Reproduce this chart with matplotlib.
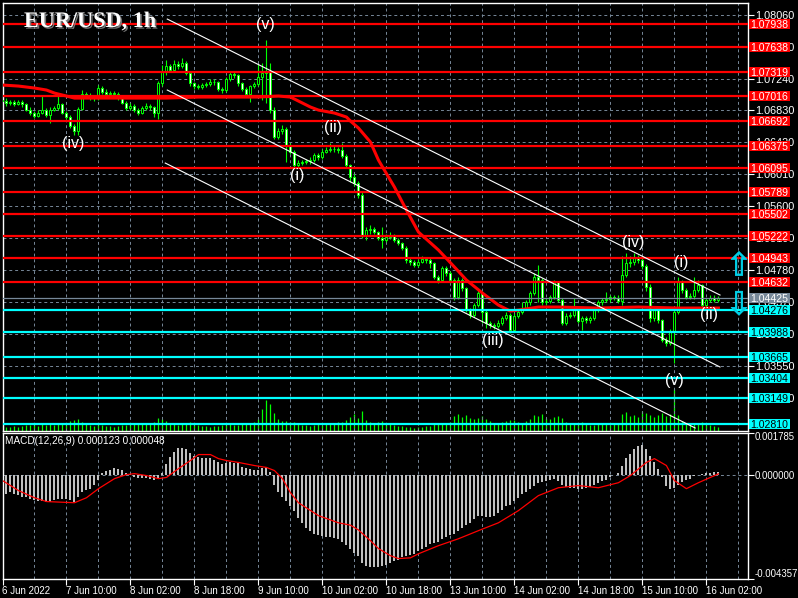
import matplotlib
matplotlib.use('Agg')
import matplotlib.pyplot as plt
import matplotlib.patheffects as pe
import matplotlib.transforms as mtransforms
from matplotlib.patches import Rectangle
import numpy as np

plt.rcParams['font.family'] = ['Liberation Sans', 'DejaVu Sans']

# EUR/USD hourly bars, 6 Jun 18:00 .. 16 Jun 05:00
first_open = 1.0697
close = [1.0695, 1.0693, 1.0694, 1.0691, 1.0694, 1.0691, 1.0684, 1.0680, 1.0676, 1.0680,
         1.0684, 1.0677, 1.0684, 1.0686, 1.0691, 1.0680, 1.0675, 1.0663, 1.0657, 1.0685,
         1.0704, 1.0703, 1.0700, 1.0699, 1.0712, 1.0707, 1.0704, 1.0705, 1.0704, 1.0699,
         1.0693, 1.0686, 1.0689, 1.0684, 1.0680, 1.0686, 1.0689, 1.0687, 1.0680, 1.0718,
         1.0732, 1.0740, 1.0735, 1.0743, 1.0740, 1.0744, 1.0731, 1.0718, 1.0714, 1.0713,
         1.0716, 1.0717, 1.0720, 1.0719, 1.0711, 1.0709, 1.0723, 1.0730, 1.0728, 1.0718,
         1.0711, 1.0704, 1.0714, 1.0717, 1.0726, 1.0731, 1.0734, 1.0684, 1.0649, 1.0657,
         1.0659, 1.0639, 1.0630, 1.0613, 1.0616, 1.0617, 1.0618, 1.0620, 1.0626, 1.0623,
         1.0630, 1.0632, 1.0634, 1.0633, 1.0632, 1.0625, 1.0613, 1.0598, 1.0590, 1.0575,
         1.0523, 1.0530, 1.0531, 1.0527, 1.0520, 1.0517, 1.0521, 1.0522, 1.0517, 1.0513,
         1.0507, 1.0491, 1.0489, 1.0485, 1.0489, 1.0493, 1.0491, 1.0487, 1.0470, 1.0466,
         1.0481, 1.0475, 1.0466, 1.0444, 1.0466, 1.0455, 1.0427, 1.0421, 1.0434, 1.0449,
         1.0425, 1.0411, 1.0408, 1.0407, 1.0411, 1.0417, 1.0421, 1.0402, 1.0420, 1.0425,
         1.0430, 1.0437, 1.0449, 1.0470, 1.0466, 1.0437, 1.0439, 1.0444, 1.0463, 1.0440,
         1.0411, 1.0420, 1.0421, 1.0429, 1.0413, 1.0417, 1.0414, 1.0417, 1.0427, 1.0437,
         1.0440, 1.0441, 1.0444, 1.0443, 1.0439, 1.0472, 1.0487, 1.0489, 1.0494, 1.0491,
         1.0483, 1.0457, 1.0417, 1.0427, 1.0414, 1.0389, 1.0385, 1.0400, 1.0425, 1.0463,
         1.0453, 1.0444, 1.0445, 1.0453, 1.0459, 1.0434, 1.0440, 1.0443, 1.0440, 1.0442]
high = [1.0700, 1.0699, 1.0697, 1.0697, 1.0697, 1.0696, 1.0693, 1.0687, 1.0682, 1.0683,
        1.0702, 1.0686, 1.0687, 1.0689, 1.0702, 1.0693, 1.0682, 1.0677, 1.0666, 1.0688,
        1.0709, 1.0707, 1.0706, 1.0703, 1.0716, 1.0714, 1.0710, 1.0708, 1.0708, 1.0707,
        1.0701, 1.0695, 1.0692, 1.0691, 1.0686, 1.0689, 1.0692, 1.0691, 1.0689, 1.0721,
        1.0741, 1.0748, 1.0743, 1.0748, 1.0747, 1.0750, 1.0747, 1.0733, 1.0720, 1.0717,
        1.0718, 1.0720, 1.0723, 1.0723, 1.0721, 1.0713, 1.0726, 1.0733, 1.0733, 1.0730,
        1.0720, 1.0713, 1.0716, 1.0720, 1.0742, 1.0744, 1.0773, 1.0744, 1.0687, 1.0660,
        1.0664, 1.0662, 1.0641, 1.0632, 1.0619, 1.0620, 1.0621, 1.0623, 1.0629, 1.0628,
        1.0633, 1.0636, 1.0641, 1.0637, 1.0636, 1.0641, 1.0627, 1.0615, 1.0601, 1.0592,
        1.0578, 1.0534, 1.0536, 1.0533, 1.0529, 1.0534, 1.0524, 1.0527, 1.0524, 1.0519,
        1.0515, 1.0509, 1.0494, 1.0491, 1.0492, 1.0497, 1.0495, 1.0494, 1.0489, 1.0472,
        1.0484, 1.0483, 1.0477, 1.0468, 1.0469, 1.0468, 1.0457, 1.0430, 1.0436, 1.0453,
        1.0451, 1.0427, 1.0413, 1.0411, 1.0414, 1.0420, 1.0424, 1.0423, 1.0423, 1.0428,
        1.0437, 1.0440, 1.0452, 1.0475, 1.0485, 1.0468, 1.0442, 1.0447, 1.0466, 1.0465,
        1.0442, 1.0423, 1.0425, 1.0443, 1.0431, 1.0420, 1.0420, 1.0420, 1.0430, 1.0440,
        1.0443, 1.0450, 1.0447, 1.0446, 1.0446, 1.0496, 1.0500, 1.0496, 1.0500, 1.0498,
        1.0497, 1.0486, 1.0460, 1.0430, 1.0430, 1.0416, 1.0392, 1.0403, 1.0431, 1.0469,
        1.0466, 1.0456, 1.0449, 1.0469, 1.0466, 1.0461, 1.0443, 1.0446, 1.0446, 1.0445]
low = [1.0692, 1.0689, 1.0690, 1.0689, 1.0690, 1.0688, 1.0682, 1.0677, 1.0673, 1.0674,
       1.0678, 1.0674, 1.0667, 1.0682, 1.0684, 1.0678, 1.0672, 1.0660, 1.0652, 1.0652,
       1.0683, 1.0699, 1.0697, 1.0695, 1.0697, 1.0704, 1.0701, 1.0701, 1.0702, 1.0697,
       1.0691, 1.0683, 1.0684, 1.0681, 1.0677, 1.0678, 1.0684, 1.0684, 1.0675, 1.0672,
       1.0715, 1.0729, 1.0732, 1.0733, 1.0736, 1.0737, 1.0728, 1.0715, 1.0711, 1.0711,
       1.0711, 1.0713, 1.0715, 1.0716, 1.0708, 1.0705, 1.0707, 1.0721, 1.0725, 1.0715,
       1.0708, 1.0700, 1.0694, 1.0712, 1.0715, 1.0696, 1.0693, 1.0680, 1.0646, 1.0646,
       1.0653, 1.0617, 1.0627, 1.0610, 1.0610, 1.0613, 1.0614, 1.0615, 1.0617, 1.0620,
       1.0621, 1.0628, 1.0630, 1.0630, 1.0629, 1.0622, 1.0610, 1.0591, 1.0586, 1.0571,
       1.0520, 1.0517, 1.0525, 1.0524, 1.0517, 1.0507, 1.0514, 1.0518, 1.0514, 1.0510,
       1.0504, 1.0488, 1.0485, 1.0482, 1.0482, 1.0487, 1.0488, 1.0481, 1.0467, 1.0462,
       1.0463, 1.0471, 1.0462, 1.0440, 1.0441, 1.0452, 1.0424, 1.0417, 1.0418, 1.0431,
       1.0411, 1.0404, 1.0404, 1.0403, 1.0404, 1.0408, 1.0414, 1.0398, 1.0399, 1.0417,
       1.0422, 1.0427, 1.0434, 1.0446, 1.0437, 1.0434, 1.0434, 1.0436, 1.0441, 1.0437,
       1.0408, 1.0408, 1.0417, 1.0418, 1.0410, 1.0401, 1.0411, 1.0411, 1.0414, 1.0425,
       1.0434, 1.0437, 1.0438, 1.0440, 1.0436, 1.0433, 1.0469, 1.0482, 1.0485, 1.0487,
       1.0480, 1.0452, 1.0412, 1.0413, 1.0410, 1.0386, 1.0381, 1.0382, 1.0359, 1.0422,
       1.0449, 1.0441, 1.0441, 1.0441, 1.0450, 1.0431, 1.0431, 1.0437, 1.0437, 1.0438]
volume = [900, 700, 600, 800, 700, 900, 1100, 1000, 1200, 900, 1300, 1100, 1400, 1000, 1200, 1300, 1500,
          1900, 2000, 2300,
          1600, 1200, 1000, 900, 1300, 1100, 900, 800, 700, 900, 1000, 1100, 1200, 1300, 1400, 1200,
          1300, 1500, 1700,
          2400, 2200, 1800,
          1300, 1200, 1100, 1400, 1500, 1600, 1200, 1000, 900, 800, 700, 800, 900, 1100, 1300, 1200,
          1000, 1100, 1400, 1500, 1300, 1600,
          2200, 4200, 6000, 5200, 3400, 2300, 1800,
          1900, 1600, 1700, 1300, 1100, 1000, 900, 1000, 1200, 1100, 1400, 1300, 1500, 1700, 1600, 2000,
          2600, 3200, 2400, 3800,
          2000, 1700, 1500, 1600, 1800, 1400, 1200, 1000, 900, 800,
          700, 600, 500, 600, 700, 800, 900, 1200, 1300, 1500, 1400, 1700,
          2800, 3200, 2600, 3000, 2400, 2200, 2500, 2900, 2300,
          1800, 1500, 1400, 1600, 1900, 2100, 2000, 1700, 1500, 1800, 2200,
          3000, 2800, 3300, 2500, 2300, 2600, 2800, 2400,
          1600, 1400, 1500, 1300, 1600, 1200, 1100, 1000, 1300, 1200, 1400, 1100, 1500, 1300,
          3200, 3600, 2800, 3000, 2600, 3900, 3400, 3000, 2700, 3100, 3500, 2800, 3300,
          8200,
          3000, 1800, 1500, 1200, 1300, 1400, 1600, 1200, 1000, 900, 600]

# moving average (red) read at a few bars
ma_bars = [0, 4, 8, 11, 13, 16, 18, 24, 32, 41, 49, 57, 64, 69, 72, 74, 77, 79, 83, 86,
           87, 89, 92, 94, 98, 101, 104, 109, 113, 116, 120, 124, 127, 129, 134, 139, 149, 159, 169, 179]
ma_vals = [1.07156, 1.07143, 1.07118, 1.07092, 1.07053, 1.07015, 1.06989, 1.06989, 1.06989, 1.06989,
           1.07002, 1.07002, 1.07002, 1.07015, 1.07002, 1.06951, 1.06874, 1.06835, 1.06797, 1.06746,
           1.06694, 1.06605, 1.06425, 1.06194, 1.05848, 1.05553, 1.05271, 1.05041, 1.04823, 1.04656,
           1.04489, 1.04335, 1.04258, 1.04271, 1.04310, 1.04310, 1.04297, 1.04310, 1.04297, 1.04297]

# MACD(12,26,9), values in units of 1e-3
macd_main_e3 = [-0.44, -0.78, -0.71, -0.78, -0.85, -0.92, -0.92, -0.99, -1.06, -1.10,
                -1.10, -1.13, -1.13, -1.06, -1.02, -1.02, -1.02, -1.06, -1.13, -0.92,
                -0.71, -0.64, -0.57, -0.42, -0.21, 0.10, 0.15, 0.20, 0.28, 0.25,
                0.20, 0.07, 0.03, -0.07, -0.14, -0.11, -0.14, -0.17, -0.21, -0.11,
                0.07, 0.45, 0.77, 0.98, 1.12, 1.15, 1.09, 0.91, 0.81, 0.77,
                0.73, 0.70, 0.70, 0.63, 0.53, 0.45, 0.49, 0.53, 0.49, 0.49,
                0.35, 0.28, 0.24, 0.21, 0.21, 0.28, 0.35, 0.14, -0.42, -0.71,
                -0.92, -1.10, -1.30, -1.50, -1.80, -2.00, -2.20, -2.35, -2.45, -2.50,
                -2.55, -2.60, -2.60, -2.65, -2.70, -2.80, -2.95, -3.10, -3.25, -3.40,
                -3.70, -3.80, -3.85, -3.85, -3.85, -3.80, -3.75, -3.70, -3.60, -3.55,
                -3.45, -3.40, -3.35, -3.30, -3.20, -3.10, -3.00, -2.90, -2.85, -2.80,
                -2.70, -2.60, -2.50, -2.45, -2.35, -2.20, -2.10, -2.00, -1.85, -1.70,
                -1.70, -1.75, -1.75, -1.70, -1.60, -1.45, -1.30, -1.25, -1.10, -0.95,
                -0.80, -0.70, -0.60, -0.45, -0.35, -0.30, -0.25, -0.20, -0.15, -0.25,
                -0.40, -0.50, -0.55, -0.55, -0.60, -0.60, -0.55, -0.50, -0.40, -0.35,
                -0.25, -0.20, -0.10, 0.00, 0.10, 0.40, 0.70, 0.90, 1.10, 1.20,
                1.25, 1.10, 0.80, 0.55, 0.25, -0.10, -0.45, -0.60, -0.55, -0.40,
                -0.30, -0.20, -0.15, -0.05, 0.00, 0.05, 0.10, 0.10, 0.12, 0.12]
signal_bars = [0, 4, 8, 11, 18, 21, 24, 28, 31, 33, 36, 39, 41, 44, 47, 49, 52, 54, 56, 59,
               63, 66, 68, 70, 72, 74, 79, 84, 87, 89, 92, 94, 97, 99, 102, 104, 109, 114, 119, 124,
               129, 134, 139, 144, 149, 154, 157, 161, 163, 166, 168, 171, 174, 179]
signal_e3 = [-0.23, -0.65, -0.95, -1.11, -1.16, -0.95, -0.57, -0.15, 0.02, 0.06,
             -0.02, -0.15, -0.10, 0.27, 0.61, 0.86, 0.86, 0.69, 0.61, 0.53,
             0.40, 0.32, 0.19, -0.15, -0.74, -1.16, -1.70, -2.00, -2.10, -2.30,
             -2.75, -3.08, -3.38, -3.50, -3.47, -3.30, -2.96, -2.67, -2.33, -2.00,
             -1.49, -0.86, -0.53, -0.44, -0.53, -0.32, -0.02, 0.53, 0.69, 0.40,
             -0.23, -0.57, -0.32, 0.05]
macd_label = 'MACD(12,26,9) 0.000123 0.000048'
macd_range = (-0.004357, 0.001785)

time_labels = ['6 Jun 2022', '7 Jun 10:00', '8 Jun 02:00', '8 Jun 18:00', '9 Jun 10:00',
               '10 Jun 02:00', '10 Jun 18:00', '13 Jun 10:00', '14 Jun 02:00', '14 Jun 18:00',
               '15 Jun 10:00', '16 Jun 02:00']
price_ticks = [1.0806, 1.0765, 1.0724, 1.0683, 1.0642, 1.0601, 1.0560, 1.0519, 1.0478,
               1.0437, 1.0396, 1.0355, 1.0314]
price_range = (1.02727, 1.08208)

resistance = [1.07938, 1.07638, 1.07319, 1.07016, 1.06692, 1.06375, 1.06095, 1.05789,
              1.05502, 1.05222, 1.04943, 1.04632]
support = [1.04276, 1.03988, 1.03665, 1.03404, 1.03149, 1.02810]
bid = 1.04425

wave_text = ['(v)', '(iv)', '(ii)', '(i)', '(iii)', '(iv)', '(i)', '(ii)', '(v)']
wave_bar = [65.7, 17.7, 82.7, 73.7, 122.7, 157.7, 169.7, 176.7, 168.0]
wave_price = [1.07926, 1.06413, 1.06618, 1.05990, 1.03887, 1.05131, 1.04887, 1.04208, 1.03374]

chan_start = [(41.2, 1.08002), (41.2, 1.07092), (40.7, 1.06156)]
chan_end = [(179.4, 1.04464), (179.4, 1.03541), (173.2, 1.02759)]

LIME = '#00ff00'
GRID = '#778899'
CYAN = '#00ffff'
W, H = 798, 598

fig = plt.figure(figsize=(W / 100, H / 100), dpi=100, facecolor='black')
ax = fig.add_axes([2.5 / W, 1 - 430.5 / H, 745.5 / W, 427.5 / H])
axm = fig.add_axes([2.5 / W, 1 - 579 / H, 745.5 / W, 146.5 / H], sharex=ax)
vol = ax.twinx()
ax.set_zorder(2)
vol.set_zorder(1)
ax.patch.set_visible(False)
axm.set_facecolor('black')

idx = np.arange(len(close))
c = np.array(close)
o = np.array([first_open] + close[:-1])
up = c >= o

# volumes
vol.vlines(idx, 0, volume, color=LIME, lw=0.9)
vol.set_ylim(0, max(volume) * 10.4)
vol.set_yticks([])
for s in vol.spines.values():
    s.set_visible(False)

# candles
ax.vlines(idx, low, high, color=LIME, lw=0.8, zorder=2)
ax.bar(idx, np.abs(c - o), bottom=np.minimum(o, c), width=0.5,
       color=np.where(up, 'black', 'white'), edgecolor=LIME, linewidth=0.7, zorder=3)

ax.plot(ma_bars, ma_vals, color='red', lw=2.2, zorder=4, solid_joinstyle='round')

for r in resistance:
    ax.axhline(r, color='#ff0000', lw=1.6, zorder=5)
for s in support:
    ax.axhline(s, color=CYAN, lw=1.6, zorder=5)
ax.axhline(bid, color=GRID, lw=0.9, zorder=4.5)

for (x0, y0), (x1, y1) in zip(chan_start, chan_end):
    ax.plot([x0, x1], [y0, y1], color='white', lw=0.8, zorder=6)

for t, b, p in zip(wave_text, wave_bar, wave_price):
    ax.text(b, p, t, color='white', fontsize=11.5, ha='center', va='center', zorder=7)

ax.set_xlim(0, 186.4)
ax.set_ylim(*price_range)
ax.set_yticks(price_ticks, labels=[f'{t:.5f}' for t in price_ticks])
ax.yaxis.tick_right()
ax.tick_params(axis='y', colors='white', labelsize=7.8, length=4, width=0.8, pad=1.5)
ax.set_xticks(np.arange(0, 180, 16))
ax.set_xticks(np.arange(8, 187, 16), minor=True)
ax.tick_params(axis='x', which='both', length=0, labelbottom=False)
ax.grid(True, which='both', color=GRID, ls=(0, (3, 3)), lw=0.7, zorder=0)
for s in ax.spines.values():
    s.set_color('white')
    s.set_linewidth(1)

# price boxes on the scale (10 px tall, 41 px wide)
trans = mtransforms.blended_transform_factory(ax.transAxes, ax.transData)
box_h = (price_range[1] - price_range[0]) * 10 / 427.5
box_w = 41 / 745.5
box_x = 1.0013


def price_box(p, fc, tc):
    ax.add_patch(Rectangle((box_x, p - box_h / 2), box_w, box_h, transform=trans,
                           fc=fc, ec='none', clip_on=False, zorder=9))
    ax.text(box_x + box_w / 2, p, f'{p:.5f}', transform=trans, color=tc, fontsize=7.6,
            ha='center', va='center_baseline', clip_on=False, zorder=10)


for r in resistance:
    price_box(r, '#ff0000', 'white')
for s in support:
    price_box(s, CYAN, 'black')
price_box(bid, GRID, 'white')

# buy / sell arrows
arrow_fx = [pe.withStroke(linewidth=0.5, foreground='#00d0e8')]
ax.text(0.988, 1.04823, '\u21e7', transform=trans, color='#00d0e8', fontsize=23,
        family='DejaVu Sans', ha='center', va='center', zorder=9, path_effects=arrow_fx)
ax.text(0.988, 1.04323, '\u21e9', transform=trans, color='#00d0e8', fontsize=23,
        family='DejaVu Sans', ha='center', va='center', zorder=9, path_effects=arrow_fx)

# MACD window
axm.bar(idx, np.array(macd_main_e3) * 1e-3, width=0.5, color='#c0c0c0', zorder=2)
axm.plot(signal_bars, np.array(signal_e3) * 1e-3, color='red', lw=0.9, zorder=3)
axm.axhline(0, color=GRID, ls=(0, (3, 3)), lw=0.7, zorder=1)
axm.set_ylim(*macd_range)
axm.set_yticks([macd_range[0], 0, macd_range[1]],
               labels=[f'{macd_range[0]:.6f}', '0.000000', f'{macd_range[1]:.6f}'])
axm.yaxis.tick_right()
ylbl = axm.get_yticklabels()
ylbl[0].set_va('bottom')
ylbl[2].set_va('top')
axm.tick_params(axis='y', colors='white', labelsize=6.9, length=4, width=0.8, pad=1)
axm.set_xticks(np.arange(0, 180, 16), labels=time_labels, ha='left')
axm.set_xticks(np.arange(8, 187, 16), minor=True)
axm.tick_params(axis='x', which='major', colors='white', labelsize=7, length=4, width=0.8, pad=1)
axm.tick_params(axis='x', which='minor', length=0)
axm.grid(True, axis='x', which='both', color=GRID, ls=(0, (3, 3)), lw=0.7, zorder=0)
for s in axm.spines.values():
    s.set_color('white')
    s.set_linewidth(1)
axm.text(0.0034, 0.94, macd_label, transform=axm.transAxes, color='white', fontsize=7.2,
         ha='left', va='center')

fig.text(24 / W, 1 - 27 / H, 'EUR/USD, 1h', family='Liberation Serif', weight='bold',
         fontsize=16, color='white', va='baseline',
         path_effects=[pe.SimplePatchShadow(offset=(1.2, -1.2), shadow_rgbFace='#808080', alpha=0.9),
                       pe.Normal()])

fig.savefig('out.png', dpi=100, facecolor='black')
